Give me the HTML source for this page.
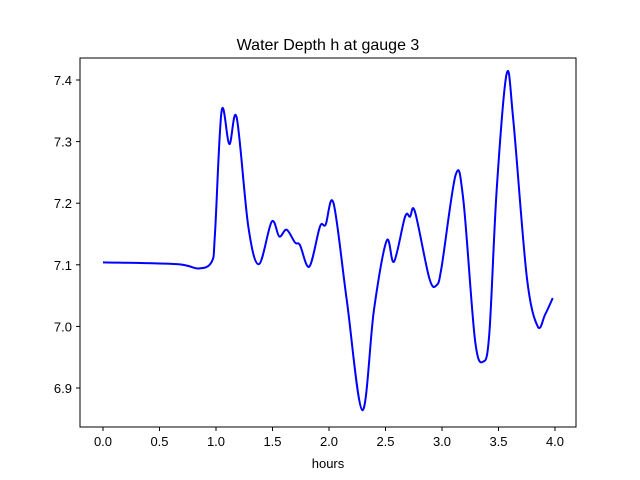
<!DOCTYPE html>
<html><head><meta charset="utf-8"><style>
body{margin:0;background:#fff}
svg{display:block;font-family:"Liberation Sans","DejaVu Sans",sans-serif}
</style></head><body>
<svg id="chart" width="640" height="480" viewBox="0 0 640 480">
<rect width="640" height="480" fill="#fff"/>
<text x="328" y="50" text-anchor="middle" font-size="16">Water Depth h at gauge 3</text>
<g id="xt"></g>
<g id="yt"></g>
<text x="328" y="468" text-anchor="middle" font-size="13">hours</text>
<path id="line" fill="none" stroke="#0000ff" stroke-width="2"/>
<rect x="80" y="58" width="496" height="369" fill="none" stroke="#000" stroke-width="1"/>
</svg>
<script>
const hours=[0,0.652,0.844,0.962,0.991,1.05,1.118,1.183,1.286,1.38,1.493,1.56,1.625,1.70,1.743,1.826,1.92,1.97,2.04,2.157,2.295,2.398,2.51,2.575,2.673,2.717,2.761,2.888,2.953,2.997,3.121,3.189,3.292,3.366,3.419,3.484,3.572,3.631,3.75,3.847,3.912,3.98];
const depth=[7.104,7.101,7.094,7.105,7.151,7.35,7.296,7.339,7.162,7.101,7.17,7.146,7.157,7.136,7.132,7.097,7.162,7.165,7.2,7.043,6.864,7.027,7.139,7.105,7.178,7.178,7.186,7.078,7.067,7.097,7.246,7.205,6.978,6.943,6.989,7.222,7.41,7.335,7.081,7.0,7.019,7.046];
const xTicks=[0,0.5,1,1.5,2,2.5,3,3.5,4];
const yTicks=[6.9,7.0,7.1,7.2,7.3,7.4];
const xS=h=>103+h*113;
const yS=v=>80+(7.4-v)*616;
const NS="http://www.w3.org/2000/svg";
const xt=document.getElementById('xt'),yt=document.getElementById('yt');
xTicks.forEach(t=>{
 const l=document.createElementNS(NS,'line');
 
 
 l.setAttribute('x1',xS(t));l.setAttribute('x2',xS(t));l.setAttribute('y1',427);l.setAttribute('y2',431);l.setAttribute('stroke','#000');xt.appendChild(l);
 const tx=document.createElementNS(NS,'text');
 
 
 tx.setAttribute('x',xS(t));tx.setAttribute('y',446);tx.setAttribute('text-anchor','middle');tx.setAttribute('font-size','13');tx.textContent=t.toFixed(1);xt.appendChild(tx);
});
yTicks.forEach(t=>{
 const l=document.createElementNS(NS,'line');
 
 
 l.setAttribute('x1',76);l.setAttribute('x2',80);l.setAttribute('y1',yS(t));l.setAttribute('y2',yS(t));l.setAttribute('stroke','#000');yt.appendChild(l);
 const tx=document.createElementNS(NS,'text');
 
 
 tx.setAttribute('x',72);tx.setAttribute('y',yS(t)+5);tx.setAttribute('text-anchor','end');tx.setAttribute('font-size','13');tx.textContent=t.toFixed(1);yt.appendChild(tx);
});
const P=hours.map((h,i)=>[xS(h),yS(depth[i])]);
let d='M'+P[0][0]+','+P[0][1];
for(let i=0;i<P.length-1;i++){
 const p0=P[Math.max(0,i-1)],p1=P[i],p2=P[i+1],p3=P[Math.min(P.length-1,i+2)];
 const k=1/6;
 d+=' C'+(p1[0]+(p2[0]-p0[0])*k)+','+(p1[1]+(p2[1]-p0[1])*k)+' '+(p2[0]-(p3[0]-p1[0])*k)+','+(p2[1]-(p3[1]-p1[1])*k)+' '+p2[0]+','+p2[1];
}
document.getElementById('line').setAttribute('d',d);
</script>
</body></html>
